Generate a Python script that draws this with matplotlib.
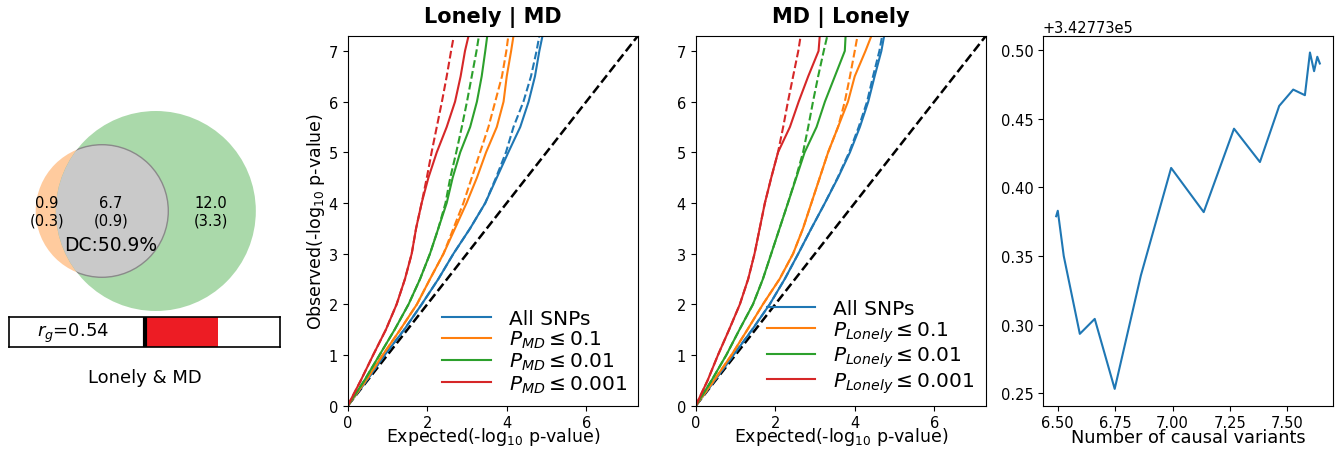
import numpy as np
import matplotlib

matplotlib.use("Agg")
import matplotlib.pyplot as plt
from matplotlib.patches import Circle

# venn (h2 partition) values
only_a = 0.9
only_a_se = 0.3
shared = 6.7
shared_se = 0.9
only_b = 12.0
only_b_se = 3.3
dc_pct = 50.9
rg = 0.54
pair_name = "Lonely & MD"

# QQ curves, x (expected) read at fixed observed levels
obs_levels = [0, 0.5, 1, 1.5, 2, 2.5, 3, 3.5, 4, 4.5, 5, 5.5, 6, 6.5, 7, 7.3]
qq_lonely_md = {
    "solid": [
        [0, 0.48, 0.93, 1.42, 1.86, 2.28, 2.66, 3.08, 3.46, 3.75, 4.04, 4.34, 4.55, 4.71, 4.82, 4.90],
        [0, 0.46, 0.88, 1.32, 1.74, 2.07, 2.41, 2.70, 2.99, 3.25, 3.48, 3.75, 3.92, 4.00, 4.11, 4.17],
        [0, 0.42, 0.8, 1.18, 1.53, 1.82, 2.07, 2.28, 2.49, 2.64, 2.83, 3.08, 3.25, 3.37, 3.46, 3.51],
        [0, 0.33, 0.64, 0.96, 1.23, 1.44, 1.61, 1.72, 1.86, 2.03, 2.24, 2.49, 2.70, 2.84, 2.95, 3.04],
    ],
    "dashed": [
        [0, 0.48, 0.93, 1.42, 1.86, 2.28, 2.66, 3.08, 3.46, 3.73, 3.98, 4.17, 4.42, 4.61, 4.75, 4.82],
        [0, 0.46, 0.88, 1.32, 1.74, 2.07, 2.41, 2.66, 2.91, 3.12, 3.33, 3.54, 3.71, 3.88, 3.99, 4.04],
        [0, 0.42, 0.8, 1.18, 1.53, 1.82, 2.07, 2.28, 2.46, 2.58, 2.73, 2.87, 3.00, 3.12, 3.24, 3.30],
        [0, 0.33, 0.64, 0.96, 1.23, 1.44, 1.61, 1.72, 1.86, 1.99, 2.11, 2.24, 2.37, 2.49, 2.60, 2.67],
    ],
}
qq_md_lonely = {
    "solid": [
        [0, 0.48, 0.95, 1.42, 1.86, 2.24, 2.58, 2.91, 3.25, 3.58, 3.88, 4.13, 4.34, 4.50, 4.67, 4.74],
        [0, 0.46, 0.9, 1.3, 1.69, 2.11, 2.45, 2.70, 2.91, 3.12, 3.33, 3.58, 3.83, 4.00, 4.27, 4.42],
        [0, 0.4, 0.77, 1.1, 1.44, 1.69, 1.90, 2.11, 2.32, 2.53, 2.74, 3.04, 3.25, 3.50, 3.75, 3.77],
        [0, 0.3, 0.56, 0.84, 1.11, 1.32, 1.48, 1.61, 1.74, 1.90, 2.07, 2.37, 2.59, 2.83, 3.09, 3.12],
    ],
    "dashed": [
        [0, 0.48, 0.95, 1.42, 1.86, 2.24, 2.58, 2.91, 3.25, 3.57, 3.86, 4.10, 4.31, 4.46, 4.62, 4.69],
        [0, 0.46, 0.9, 1.3, 1.69, 2.11, 2.45, 2.70, 2.91, 3.12, 3.33, 3.58, 3.75, 3.88, 4.00, 4.07],
        [0, 0.4, 0.77, 1.1, 1.44, 1.69, 1.90, 2.11, 2.32, 2.52, 2.70, 2.83, 2.95, 3.08, 3.22, 3.31],
        [0, 0.3, 0.56, 0.84, 1.11, 1.32, 1.48, 1.61, 1.74, 1.90, 2.07, 2.20, 2.32, 2.45, 2.58, 2.64],
    ],
}
qq_colors = ["tab:blue", "tab:orange", "tab:green", "tab:red"]
labels_md = ["All SNPs", r"$P_{MD} \leq 0.1$", r"$P_{MD} \leq 0.01$", r"$P_{MD} \leq 0.001$"]
labels_lonely = ["All SNPs", r"$P_{Lonely} \leq 0.1$", r"$P_{Lonely} \leq 0.01$",
                 r"$P_{Lonely} \leq 0.001$"]
qq_max = 7.30103

# last panel
causal_x = [6.493, 6.50, 6.526, 6.596, 6.661, 6.748, 6.862, 6.994, 7.136, 7.268,
            7.381, 7.465, 7.526, 7.577, 7.599, 7.617, 7.631, 7.642]
causal_y = [0.379, 0.383, 0.350, 0.2933, 0.3042, 0.2532, 0.3358, 0.4142, 0.382, 0.4428,
            0.4185, 0.4594, 0.4713, 0.4672, 0.4983, 0.4847, 0.4952, 0.4903]
causal_base = 342773.0

W, H = 1341, 452
fig = plt.figure(figsize=(W / 100, H / 100), dpi=100)


def px_axes(x0, y0, x1, y1):
    return fig.add_axes([x0 / W, 1 - y1 / H, (x1 - x0) / W, (y1 - y0) / H])


# ---- venn ----
ra = np.sqrt((only_a + shared) / np.pi)
rb = np.sqrt((only_b + shared) / np.pi)


def overlap(d):
    if d >= ra + rb:
        return 0.0
    if d <= abs(rb - ra):
        return np.pi * min(ra, rb) ** 2
    a1 = ra**2 * np.arccos((d**2 + ra**2 - rb**2) / (2 * d * ra))
    a2 = rb**2 * np.arccos((d**2 + rb**2 - ra**2) / (2 * d * rb))
    a3 = 0.5 * np.sqrt((-d + ra + rb) * (d + ra - rb) * (d - ra + rb) * (d + ra + rb))
    return a1 + a2 - a3


lo, hi = abs(rb - ra), ra + rb
for _ in range(60):
    mid = (lo + hi) / 2
    if overlap(mid) > shared:
        lo = mid
    else:
        hi = mid
dist = (lo + hi) / 2

scale = 100 / rb  # px per unit
axv = px_axes(0, 100, 300, 320)
axv.set_xlim(-102 / scale, 198 / scale)
axv.set_ylim(-108 / scale, 112 / scale)
axv.axis("off")
ca = (0.0, 0.0)
cb = (dist, 0.0)
axv.add_patch(Circle(ca, ra * 1.04, color="tab:orange", alpha=0.4, lw=0))
axv.add_patch(Circle(cb, rb, color="tab:green", alpha=0.4, lw=0))
inter = Circle(ca, ra * 1.04, facecolor="#c9c9c9", edgecolor="#8a8a8a", lw=1, alpha=1)
axv.add_patch(inter)
clip = Circle(cb, rb, transform=axv.transData)
inter.set_clip_path(clip)

xa = ((ca[0] - ra) + (cb[0] - rb)) / 2
xab = ((cb[0] - rb) + (ca[0] + ra)) / 2
xb = ((ca[0] + ra) + (cb[0] + rb)) / 2
axv.text(xa, 0.0, f"{only_a}\n({only_a_se})", ha="center", va="center", fontsize=10.5)
axv.text(xab, 0.0, f"{shared}\n({shared_se})", ha="center", va="center", fontsize=10.5)
axv.text(xb, 0.0, f"{only_b}\n({only_b_se})", ha="center", va="center", fontsize=10.5)
axv.text(xab, -0.82, f"DC:{dc_pct}%", ha="center", va="center", fontsize=13.5)

# ---- rg bar ----
axb = px_axes(9, 318, 280, 348)
axb.set_xlim(-1, 1)
axb.set_ylim(0, 1)
axb.barh(0.5, rg, height=1, left=0, color="#ed1c24")
axb.axvline(0, color="black", lw=3)
axb.set_xticks([])
axb.set_yticks([])
for s in axb.spines.values():
    s.set_linewidth(1.2)
axb.text(-0.53, 0.5, f"$r_g$={rg}", ha="center", va="center", fontsize=13)
fig.text(145 / W, 1 - 378 / H, pair_name, ha="center", va="center", fontsize=13)


# ---- QQ panels ----
def qq_panel(ax, data, labels, title, ylabel):
    ax.plot([0, qq_max], [0, qq_max], "k--", lw=1.8)
    for i, c in enumerate(qq_colors):
        ax.plot(data["solid"][i], obs_levels, color=c, lw=1.5, label=labels[i])
        ax.plot(data["dashed"][i], obs_levels, color=c, lw=1.5, ls="--")
    ax.set_xlim(0, qq_max)
    ax.set_ylim(0, qq_max)
    ax.set_xticks([0, 2, 4, 6])
    ax.set_yticks(range(8))
    ax.tick_params(labelsize=10.5)
    ax.set_title(title, fontsize=15, fontweight="bold", pad=10)
    ax.set_xlabel(r"Expected(-log$_{10}$ p-value)", fontsize=12.5, labelpad=-4)
    if ylabel:
        ax.set_ylabel(r"Observed(-log$_{10}$ p-value)", fontsize=12.5, labelpad=1)
    ax.legend(loc="lower right", fontsize=14.5, frameon=False, handlelength=2.4,
              borderaxespad=0.15, labelspacing=0.05, handletextpad=0.9)


ax2 = px_axes(347.7, 36.7, 638, 406.7)
qq_panel(ax2, qq_lonely_md, labels_md, "Lonely | MD", True)
ax3 = px_axes(695.7, 36.7, 986, 406.7)
qq_panel(ax3, qq_md_lonely, labels_lonely, "MD | Lonely", False)

# ---- causal variants ----
ax4 = px_axes(1043, 36.7, 1333, 406.7)
ax4.plot(causal_x, causal_base + np.array(causal_y), color="tab:blue", lw=1.5)
ax4.set_xticks([6.5, 6.75, 7.0, 7.25, 7.5])
ax4.tick_params(labelsize=10.5)
ax4.yaxis.get_offset_text().set_fontsize(10.5)
ax4.set_xlabel("Number of causal variants", fontsize=12.8, labelpad=-2)

fig.savefig("out.png", dpi=100)
